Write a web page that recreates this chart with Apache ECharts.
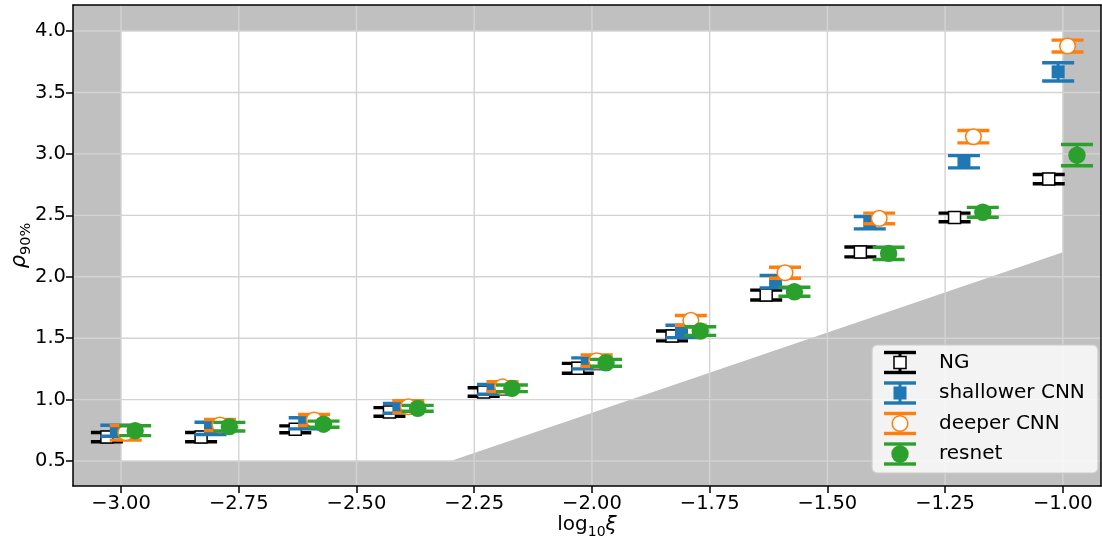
<!DOCTYPE html>
<html>
<head>
<meta charset="utf-8">
<script src="https://cdn.jsdelivr.net/npm/echarts@6/dist/echarts.min.js"></script>
<style>html,body{margin:0;padding:0;background:#fff}#c{width:1102px;height:539px}</style>
</head>
<body>
<div id="c"></div>
<script>
// ---- data ----
const xCenters = [-3.0, -2.8, -2.6, -2.4, -2.2, -2.0, -1.8, -1.6, -1.4, -1.2, -1.0];
const seriesNames = ['NG', 'shallower CNN', 'deeper CNN', 'resnet'];
const seriesOffsets = [-0.03, -0.01, 0.01, 0.03];
const ngVals = [0.695, 0.695, 0.758, 0.900, 1.062, 1.255, 1.518, 1.851, 2.202, 2.483, 2.795];
const ngErr = [0.038, 0.038, 0.028, 0.035, 0.035, 0.040, 0.040, 0.040, 0.040, 0.035, 0.038];
const shallowVals = [0.747, 0.766, 0.807, 0.929, 1.084, 1.295, 1.555, 1.960, 2.440, 2.936, 3.668];
const shallowErr = [0.045, 0.050, 0.045, 0.040, 0.040, 0.045, 0.050, 0.050, 0.050, 0.050, 0.074];
const deeperVals = [0.730, 0.793, 0.834, 0.942, 1.105, 1.317, 1.645, 2.033, 2.475, 3.140, 3.878];
const deeperErr = [0.060, 0.045, 0.045, 0.050, 0.040, 0.046, 0.040, 0.045, 0.043, 0.050, 0.048];
const resnetVals = [0.747, 0.780, 0.800, 0.929, 1.092, 1.300, 1.558, 1.878, 2.190, 2.525, 2.990];
const resnetErr = [0.040, 0.035, 0.025, 0.024, 0.027, 0.028, 0.035, 0.037, 0.050, 0.040, 0.087];
const xTicks = [-3.0, -2.75, -2.5, -2.25, -2.0, -1.75, -1.5, -1.25, -1.0];
const yTicks = [0.5, 1.0, 1.5, 2.0, 2.5, 3.0, 3.5, 4.0];
// allowed (white) region boundary
const allowedRegion = [[-3.0, 4.0], [-1.0, 4.0], [-1.0, 2.2], [-2.3, 0.5], [-3.0, 0.5]];

// ---- layout ----
const X_MIN = -3.102, X_MAX = -0.919, Y_MIN = 0.297, Y_MAX = 4.212;
const FONT = 'DejaVu Sans';

const chart = echarts.init(document.getElementById('c'), null, {renderer: 'canvas'});

function shadeSeries() {
  return {
    type: 'custom', z: 1, silent: true, clip: true,
    data: [[X_MIN, Y_MIN]],
    encode: {x: 0, y: 1},
    renderItem: (params, api) => {
      const p0 = api.coord([X_MIN, Y_MAX]), p1 = api.coord([X_MAX, Y_MIN]);
      return {
        type: 'group', children: [
          {type: 'rect', shape: {x: p0[0], y: p0[1], width: p1[0] - p0[0], height: p1[1] - p0[1]}, style: {fill: '#c0c0c0'}},
          {type: 'polygon', shape: {points: allowedRegion.map(p => api.coord(p))}, style: {fill: '#ffffff'}}
        ]
      };
    }
  };
}

function gridSeries() {
  const items = xTicks.map(v => [v, 0]).concat(yTicks.map(v => [v, 1]));
  return {
    type: 'custom', z: 2, silent: true, clip: true,
    data: items,
    encode: {x: 0},
    renderItem: (params, api) => {
      const v = api.value(0), kind = api.value(1);
      let a, b;
      if (kind === 0) { a = api.coord([v, Y_MIN]); b = api.coord([v, Y_MAX]); }
      else { a = api.coord([X_MIN, v]); b = api.coord([X_MAX, v]); }
      return {type: 'line', shape: {x1: a[0], y1: a[1], x2: b[0], y2: b[1]}, style: {stroke: '#d3d3d3', lineWidth: 1.4}};
    }
  };
}

function markerShape(kind, cx, cy, z) {
  if (kind === 0) return {type: 'rect', z: z, shape: {x: cx - 6, y: cy - 6, width: 12, height: 12}, style: {fill: '#ffffff', stroke: '#000000', lineWidth: 1.5}};
  if (kind === 1) return {type: 'rect', z: z, shape: {x: cx - 6.5, y: cy - 6.5, width: 13, height: 13}, style: {fill: '#1f77b4'}};
  if (kind === 2) return {type: 'circle', z: z, shape: {cx: cx, cy: cy, r: 7.8}, style: {fill: '#ffffff', stroke: '#ff7f0e', lineWidth: 1.5}};
  return {type: 'circle', z: z, shape: {cx: cx, cy: cy, r: 8.7}, style: {fill: '#2ca02c'}};
}
const colors = ['#000000', '#1f77b4', '#ff7f0e', '#2ca02c'];

function errShapes(kind, cx, ty, by, cy, z) {
  const col = colors[kind];
  return [
    {type: 'line', z: z, shape: {x1: cx, y1: ty, x2: cx, y2: by}, style: {stroke: col, lineWidth: 3}},
    {type: 'line', z: z, shape: {x1: cx - 16, y1: ty, x2: cx + 16, y2: ty}, style: {stroke: col, lineWidth: 3.4}},
    {type: 'line', z: z, shape: {x1: cx - 16, y1: by, x2: cx + 16, y2: by}, style: {stroke: col, lineWidth: 3.4}},
    markerShape(kind, cx, cy, z)
  ];
}

function errSeries(kind, vals, errs) {
  return {
    type: 'custom', name: seriesNames[kind], z: 5 + kind, clip: false,
    data: xCenters.map((x, i) => [x + seriesOffsets[kind], vals[i], errs[i]]),
    encode: {x: 0, y: 1},
    renderItem: (params, api) => {
      const x = api.value(0), y = api.value(1), e = api.value(2);
      const c = api.coord([x, y]), t = api.coord([x, y + e]), b = api.coord([x, y - e]);
      return {type: 'group', children: errShapes(kind, c[0], t[1], b[1], c[1])};
    }
  };
}

// legend drawn as graphic (matplotlib-like errorbar handles)
const legendX = 872, legendY = 345, rowY = [362.5, 393, 423.5, 454];
const legendGraphics = [{
  type: 'rect', shape: {x: legendX, y: legendY, width: 226, height: 128, r: 5},
  style: {fill: 'rgba(255,255,255,0.8)', stroke: '#cccccc', lineWidth: 1.2}, z: 100
}];
seriesNames.forEach((n, k) => {
  errShapes(k, 900, rowY[k] - 10, rowY[k] + 10, rowY[k], 101).forEach(s => legendGraphics.push(s));
  legendGraphics.push({type: 'text', z: 101, style: {text: n, x: 939, y: rowY[k], fill: '#000', font: '20px "DejaVu Sans"', verticalAlign: 'middle'}});
});

const labelStyle = {color: '#000', fontFamily: FONT, fontSize: 19.5};

chart.setOption({
  animation: false,
  grid: {left: 73, right: 1, top: 5, bottom: 53, containLabel: false, outerBoundsMode: 'none'},
  xAxis: [{
    type: 'value', min: X_MIN, max: X_MAX, z: 10,
    name: '{a|log}{s|10}{b|ξ}', nameLocation: 'middle', nameGap: 25, nameMoveOverlap: false,
    nameTextStyle: {color: '#000', fontFamily: FONT, fontSize: 20, rich: {
      a: {fontFamily: FONT, fontSize: 20, lineHeight: 28, color: '#000'},
      s: {fontFamily: FONT, fontSize: 14, lineHeight: 14, verticalAlign: 'bottom', color: '#000'},
      b: {fontFamily: FONT, fontSize: 20, lineHeight: 28, fontStyle: 'italic', color: '#000'}}},
    axisLine: {show: true, onZero: false, lineStyle: {color: '#000', width: 1.5}},
    axisTick: {show: true, customValues: xTicks, length: 7, lineStyle: {color: '#000', width: 1.5}},
    axisLabel: Object.assign({customValues: xTicks, margin: 8, formatter: v => (v < 0 ? '\u2212' : '') + Math.abs(v).toFixed(2)}, labelStyle),
    splitLine: {show: false}
  }, {
    type: 'value', position: 'top', min: X_MIN, max: X_MAX, z: 10,
    axisLine: {show: true, onZero: false, lineStyle: {color: '#000', width: 1.5}},
    axisTick: {show: false}, axisLabel: {show: false}, splitLine: {show: false}
  }],
  yAxis: [{
    type: 'value', min: Y_MIN, max: Y_MAX, z: 10,
    name: '{a|ρ}{s|90%}', nameLocation: 'middle', nameGap: 39, nameRotate: 90, nameMoveOverlap: false,
    nameTextStyle: {color: '#000', fontFamily: FONT, fontSize: 20, rich: {
      a: {fontFamily: FONT, fontSize: 21, lineHeight: 28, fontStyle: 'italic', color: '#000'},
      s: {fontFamily: FONT, fontSize: 14.5, lineHeight: 14, verticalAlign: 'bottom', color: '#000'}}},
    axisLine: {show: true, onZero: false, lineStyle: {color: '#000', width: 1.5}},
    axisTick: {show: true, customValues: yTicks, length: 7, lineStyle: {color: '#000', width: 1.5}},
    axisLabel: Object.assign({customValues: yTicks, margin: 7, formatter: v => v.toFixed(1)}, labelStyle),
    splitLine: {show: false}
  }, {
    type: 'value', position: 'right', min: Y_MIN, max: Y_MAX, z: 10,
    axisLine: {show: true, onZero: false, lineStyle: {color: '#000', width: 1.5}},
    axisTick: {show: false}, axisLabel: {show: false}, splitLine: {show: false}
  }],
  graphic: legendGraphics,
  series: [
    shadeSeries(),
    gridSeries(),
    errSeries(0, ngVals, ngErr),
    errSeries(1, shallowVals, shallowErr),
    errSeries(2, deeperVals, deeperErr),
    errSeries(3, resnetVals, resnetErr)
  ]
});
</script>
</body>
</html>
